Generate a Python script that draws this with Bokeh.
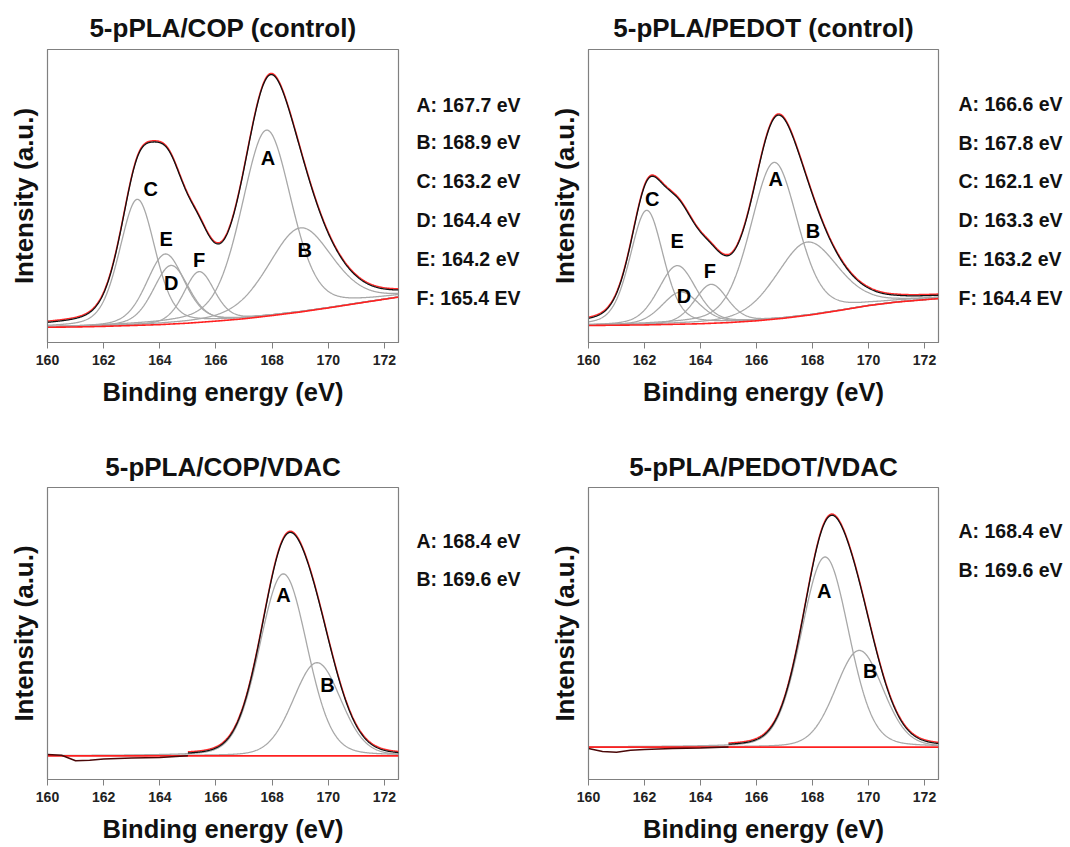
import numpy as np
from bokeh.plotting import figure
from bokeh.layouts import column, row
from bokeh.models import Range1d, FixedTicker, Label
from bokeh.embed import file_html
from bokeh.resources import INLINE

FONT = "Liberation Sans"

# ---------------- data ----------------
x_ticks = [160, 162, 164, 166, 168, 170, 172]

# Panel 1: 5-pPLA/COP (control)
p1_title = "5-pPLA/COP (control)"
p1_names = ["A", "B", "C", "D", "E", "F"]
p1_centers = [167.8, 169.0, 163.2, 164.4, 164.2, 165.4]
p1_heights = [63.5, 28.7, 43.0, 20.0, 24.0, 17.3]
p1_fwhm = [2.1, 2.7, 1.5, 1.5, 1.6, 1.3]
p1_base_x = [160, 161, 162, 163, 164, 165, 166, 167, 168, 169, 170, 171, 172.5]
p1_base_y = [5.2, 5.3, 5.5, 5.8, 6.1, 6.6, 7.3, 8.1, 9.2, 10.4, 11.8, 13.3, 15.5]
p1_label_x = [167.85, 169.16, 163.68, 164.41, 164.23, 165.4]
p1_label_y = [63.0, 31.4, 52.4, 20.2, 35.4, 28.0]
p1_legend = ["A: 167.7 eV", "B: 168.9 eV", "C: 163.2 eV", "D: 164.4 eV", "E: 164.2 eV", "F: 165.4 EV"]
p1_legend_y = [81.2, 68.3, 55.0, 41.8, 28.4, 15.1]

# Panel 2: 5-pPLA/PEDOT (control)
p2_title = "5-pPLA/PEDOT (control)"
p2_names = ["A", "B", "C", "D", "E", "F"]
p2_centers = [166.63, 167.81, 162.08, 163.3, 163.17, 164.38]
p2_heights = [53.5, 25.0, 39.1, 11.0, 20.0, 13.3]
p2_fwhm = [2.0, 2.6, 1.4, 1.6, 1.6, 1.4]
p2_base_x = [160, 161, 162, 163, 164, 165, 166, 167, 168, 169, 170, 171, 172.5]
p2_base_y = [5.8, 5.9, 6.0, 6.2, 6.4, 6.8, 7.4, 8.3, 9.5, 11.0, 12.6, 13.8, 15.0]
p2_label_x = [166.69, 168.02, 162.28, 163.41, 163.17, 164.33]
p2_label_y = [55.7, 38.0, 48.9, 15.8, 34.8, 24.5]
p2_legend = ["A: 166.6 eV", "B: 167.8 eV", "C: 162.1 eV", "D: 163.3 eV", "E: 163.2 eV", "F: 164.4 EV"]
p2_legend_y = [81.3, 68.0, 55.0, 41.8, 28.4, 15.1]

# Panel 3: 5-pPLA/COP/VDAC
p3_title = "5-pPLA/COP/VDAC"
p3_names = ["A", "B"]
p3_centers = [168.4, 169.6]
p3_heights = [62.3, 31.9]
p3_fwhm = [2.0, 2.0]
p3_base_x = [160, 172.5]
p3_base_y = [8.1, 8.1]
p3_raw_low_x = [160.0, 160.5, 161.0, 161.5, 162.0, 163.0, 164.0, 165.0]
p3_raw_low_y = [8.6, 8.3, 6.4, 6.6, 7.0, 7.4, 7.5, 8.1]
p3_label_x = [168.4, 169.97]
p3_label_y = [63.1, 32.4]
p3_legend = ["A: 168.4 eV", "B: 169.6 eV"]
p3_legend_y = [81.7, 68.5]

# Panel 4: 5-pPLA/PEDOT/VDAC
p4_title = "5-pPLA/PEDOT/VDAC"
p4_names = ["A", "B"]
p4_centers = [168.45, 169.67]
p4_heights = [65.1, 33.1]
p4_fwhm = [2.0, 2.0]
p4_base_x = [160, 172.5]
p4_base_y = [11.1, 11.1]
p4_raw_low_x = [160.0, 160.5, 161.0, 161.5, 162.0, 163.0, 164.0, 165.0]
p4_raw_low_y = [10.6, 9.6, 9.3, 10.0, 10.3, 10.6, 10.8, 11.1]
p4_label_x = [168.42, 170.06]
p4_label_y = [64.6, 37.2]
p4_legend = ["A: 168.4 eV", "B: 169.6 eV"]
p4_legend_y = [85.0, 71.7]

ETA_CONTROL = 0.3
ETA_VDAC = 0.15

# ---------------- drawing ----------------
x_grid = np.linspace(160.0, 172.5, 626)

TOP_H, BOT_H = 440, 407
TOP_BT, TOP_BB = 49, 98
BOT_BT, BOT_BB = 47, 68


def pseudo_voigt(x, c, h, w, eta):
    d = (x - c) / w
    g = np.exp(-4.0 * np.log(2.0) * d * d)
    lz = 1.0 / (1.0 + 4.0 * d * d)
    return h * ((1.0 - eta) * g + eta * lz)


def make_panel(title, names, centers, heights, fwhm, base_x, base_y, eta,
               label_x, label_y, width, height, bl, br, bt, bb, title_standoff,
               raw_low_x=None, raw_low_y=None):
    p = figure(width=width, height=height,
               x_range=Range1d(160, 172.5), y_range=Range1d(0, 100),
               output_backend="svg", toolbar_location=None,
               min_border_left=bl, min_border_right=br,
               min_border_top=bt, min_border_bottom=bb)
    p.title.text = title
    p.title.align = "center"
    p.title.text_font = FONT
    p.title.text_font_size = "26px"
    p.title.text_font_style = "bold"
    p.title.text_color = "#111111"
    p.title.standoff = title_standoff
    p.grid.visible = False
    p.outline_line_color = "#808080"
    p.outline_line_width = 1.2

    xa = p.xaxis[0]
    xa.ticker = FixedTicker(ticks=x_ticks)
    xa.axis_label = "Binding energy (eV)"
    xa.axis_label_text_font = FONT
    xa.axis_label_text_font_size = "25.5px"
    xa.axis_label_text_font_style = "bold"
    xa.axis_label_text_color = "#111111"
    xa.axis_label_standoff = 10
    xa.major_label_text_font = FONT
    xa.major_label_text_font_size = "14px"
    xa.major_label_text_font_style = "bold"
    xa.major_label_text_color = "#222222"
    xa.major_label_standoff = 6
    xa.major_tick_out = 6
    xa.major_tick_in = 0
    xa.major_tick_line_color = "#808080"
    xa.minor_tick_line_color = None
    xa.axis_line_color = "#808080"

    ya = p.yaxis[0]
    ya.ticker = FixedTicker(ticks=[])
    ya.major_label_text_font_size = "0px"
    ya.major_tick_out = 0
    ya.major_tick_in = 0
    ya.minor_tick_line_color = None
    ya.major_label_standoff = 0
    ya.axis_label = "Intensity (a.u.)"
    ya.axis_label_text_font = FONT
    ya.axis_label_text_font_size = "26px"
    ya.axis_label_text_font_style = "bold"
    ya.axis_label_text_color = "#111111"
    ya.axis_label_standoff = 9
    ya.axis_line_color = "#808080"

    base = np.interp(x_grid, base_x, base_y)
    comps = [pseudo_voigt(x_grid, c, h, w, eta) for c, h, w in zip(centers, heights, fwhm)]
    env = base + np.sum(comps, axis=0)

    # component peaks
    for comp in comps:
        p.line(x_grid, base + comp, line_color="#a8a8a8", line_width=1.3)

    # background (red), measured data (red) and fit envelope (black)
    if raw_low_x is not None:
        hi = x_grid >= 165.0
        p.line(base_x, base_y, line_color="#ff2020", line_width=1.6)
        p.line(x_grid[hi], env[hi] + 0.4, line_color="#ff2a2a", line_width=1.5)
        p.line(raw_low_x, raw_low_y, line_color="#4a0808", line_width=1.5)
        p.line(x_grid[hi], env[hi], line_color="#111111", line_width=1.3)
    else:
        p.line(x_grid, base, line_color="#ff2020", line_width=1.6)
        p.line(x_grid, env + 0.4, line_color="#ff2a2a", line_width=1.5)
        p.line(x_grid, env, line_color="#111111", line_width=1.3)

    # peak letters
    for n, lx, ly in zip(names, label_x, label_y):
        p.add_layout(Label(x=lx, y=ly, text=n, text_font=FONT, text_font_size="20px",
                           text_font_style="bold", text_color="black",
                           text_align="center", text_baseline="middle"))
    return p


def make_legend(texts, ys, width, height, bt, bb, text_x):
    q = figure(width=width, height=height,
               x_range=Range1d(0, width), y_range=Range1d(0, 100),
               output_backend="svg", toolbar_location=None,
               x_axis_location=None, y_axis_location=None,
               min_border_left=0, min_border_right=0,
               min_border_top=bt, min_border_bottom=bb)
    q.grid.visible = False
    q.outline_line_color = None
    for t, ly in zip(texts, ys):
        q.add_layout(Label(x=text_x, y=ly, text=t, text_font=FONT, text_font_size="19.5px",
                           text_font_style="bold", text_color="#111111",
                           text_align="left", text_baseline="middle"))
    return q


p1 = make_panel(p1_title, p1_names, p1_centers, p1_heights, p1_fwhm, p1_base_x, p1_base_y,
                ETA_CONTROL, p1_label_x, p1_label_y, 400, TOP_H, 47, 2, TOP_BT, TOP_BB, 14)
l1 = make_legend(p1_legend, p1_legend_y, 140, TOP_H, TOP_BT, TOP_BB, 16)
p2 = make_panel(p2_title, p2_names, p2_centers, p2_heights, p2_fwhm, p2_base_x, p2_base_y,
                ETA_CONTROL, p2_label_x, p2_label_y, 400, TOP_H, 48, 2, TOP_BT, TOP_BB, 14)
l2 = make_legend(p2_legend, p2_legend_y, 130, TOP_H, TOP_BT, TOP_BB, 18)
p3 = make_panel(p3_title, p3_names, p3_centers, p3_heights, p3_fwhm, p3_base_x, p3_base_y,
                ETA_VDAC, p3_label_x, p3_label_y, 400, BOT_H, 47, 2, BOT_BT, BOT_BB, 11,
                raw_low_x=p3_raw_low_x, raw_low_y=p3_raw_low_y)
l3 = make_legend(p3_legend, p3_legend_y, 140, BOT_H, BOT_BT, BOT_BB, 16)
p4 = make_panel(p4_title, p4_names, p4_centers, p4_heights, p4_fwhm, p4_base_x, p4_base_y,
                ETA_VDAC, p4_label_x, p4_label_y, 400, BOT_H, 48, 2, BOT_BT, BOT_BB, 11,
                raw_low_x=p4_raw_low_x, raw_low_y=p4_raw_low_y)
l4 = make_legend(p4_legend, p4_legend_y, 130, BOT_H, BOT_BT, BOT_BB, 18)

layout = column(row(p1, l1, p2, l2), row(p3, l3, p4, l4))
open("out.html", "w").write(file_html(layout, INLINE))
